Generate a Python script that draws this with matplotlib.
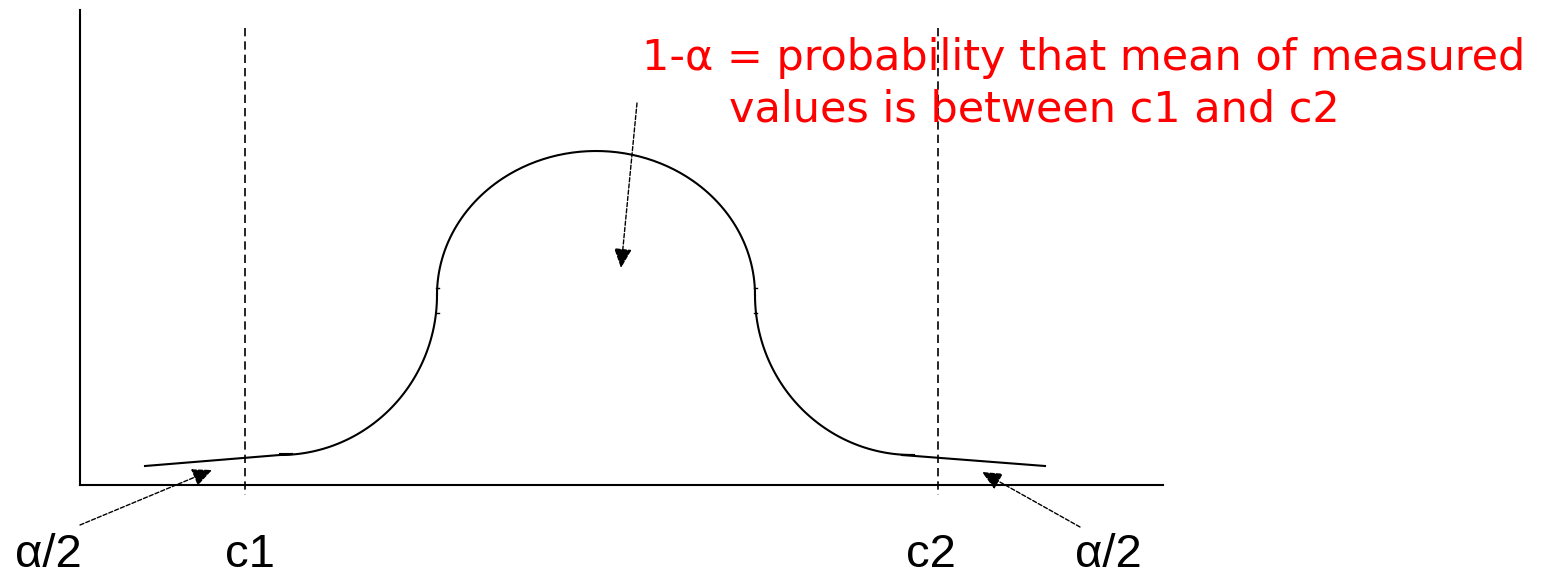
import numpy as np
import matplotlib
matplotlib.use("Agg")
import matplotlib.pyplot as plt

# ---- schematic data (drawing units: x to the right, y downward) ----
axis_origin = [80, 485]
axis_x_end = 1163
axis_y_top = 10

c_names = ["c1", "c2"]
c_x = [245, 938]
c_line_top = 28
c_line_bottom = 495

# bell curve pieces
peak_center = [596, 295]
peak_radii = [159, 144]
shoulder_centers_x = [280, 912]
shoulder_radii = [157, 160]
tail_left = [[145, 466], [292, 454]]
tail_right = [[902, 455], [1045, 466]]

annot_text_1 = "1-\u03b1 = probability that mean of measured"
annot_text_2 = "values is between c1 and c2"
annot_arrow = [[637, 103], [621, 268]]
alpha_arrows = [[[80, 525], [212, 470]], [[1080, 527], [982, 472]]]
alpha_label_x = [15, 1075]
c_label_x = [225, 906]
label_baseline = 567

fig = plt.figure(figsize=(15.56, 5.77), dpi=100)
ax = fig.add_axes([0, 0, 1, 1])
ax.set_xlim(0, 1556)
ax.set_ylim(577, 0)
ax.axis("off")

k = "black"
# axes
ax.plot([axis_origin[0], axis_origin[0]], [axis_y_top, axis_origin[1]], color=k, lw=1.5)
ax.plot([axis_origin[0], axis_x_end], [axis_origin[1], axis_origin[1]], color=k, lw=1.5)

# dashed c lines
for x in c_x:
    ax.plot([x, x], [c_line_top, c_line_bottom], color=k, lw=1.2, ls=(0, (5, 3)))

# curve
lwc = 1.5
t = np.linspace(0, np.pi, 200)
ax.plot(peak_center[0] - peak_radii[0] * np.cos(t), peak_center[1] - peak_radii[1] * np.sin(t), color=k, lw=lwc)
s = np.linspace(0, np.pi / 2, 100)
ax.plot(shoulder_centers_x[0] + shoulder_radii[0] * np.cos(s), peak_center[1] + shoulder_radii[1] * np.sin(s), color=k, lw=lwc)
ax.plot(shoulder_centers_x[1] - shoulder_radii[0] * np.cos(s), peak_center[1] + shoulder_radii[1] * np.sin(s), color=k, lw=lwc)
for tl in (tail_left, tail_right):
    ax.plot([tl[0][0], tl[1][0]], [tl[0][1], tl[1][1]], color=k, lw=lwc)

# little joint ticks
jx = [peak_center[0] - peak_radii[0], peak_center[0] + peak_radii[0]]
for x in jx:
    for dy in (-7, 18):
        ax.plot([x - 1, x + 2], [peak_center[1] + dy, peak_center[1] + dy], color=k, lw=1.0)
ax.plot([280, 292], [454, 454], color=k, lw=1.5)
ax.plot([902, 914], [455, 455], color=k, lw=1.5)

# arrows
def arrow(p0, p1):
    ax.annotate("", xy=p1, xytext=p0,
                arrowprops=dict(arrowstyle="-|>,head_length=1.2,head_width=0.55",
                                color=k, lw=1.0, ls=(0, (3, 1.5)), shrinkA=0, shrinkB=0))

arrow(*annot_arrow)
for a in alpha_arrows:
    arrow(*a)

# labels
lf = dict(family="Liberation Sans", fontsize=34, color=k, va="baseline", ha="left")
for x in alpha_label_x:
    ax.text(x, label_baseline, "\u03b1/2", **lf)
for name, x in zip(c_names, c_label_x):
    ax.text(x, label_baseline, name, **lf)

rf = dict(family="DejaVu Sans", fontsize=31, color="#ff0000", va="baseline", ha="left")
ax.text(642, 70, annot_text_1, **rf)
ax.text(729, 121, annot_text_2, **rf)

fig.savefig("out.png", dpi=100)
